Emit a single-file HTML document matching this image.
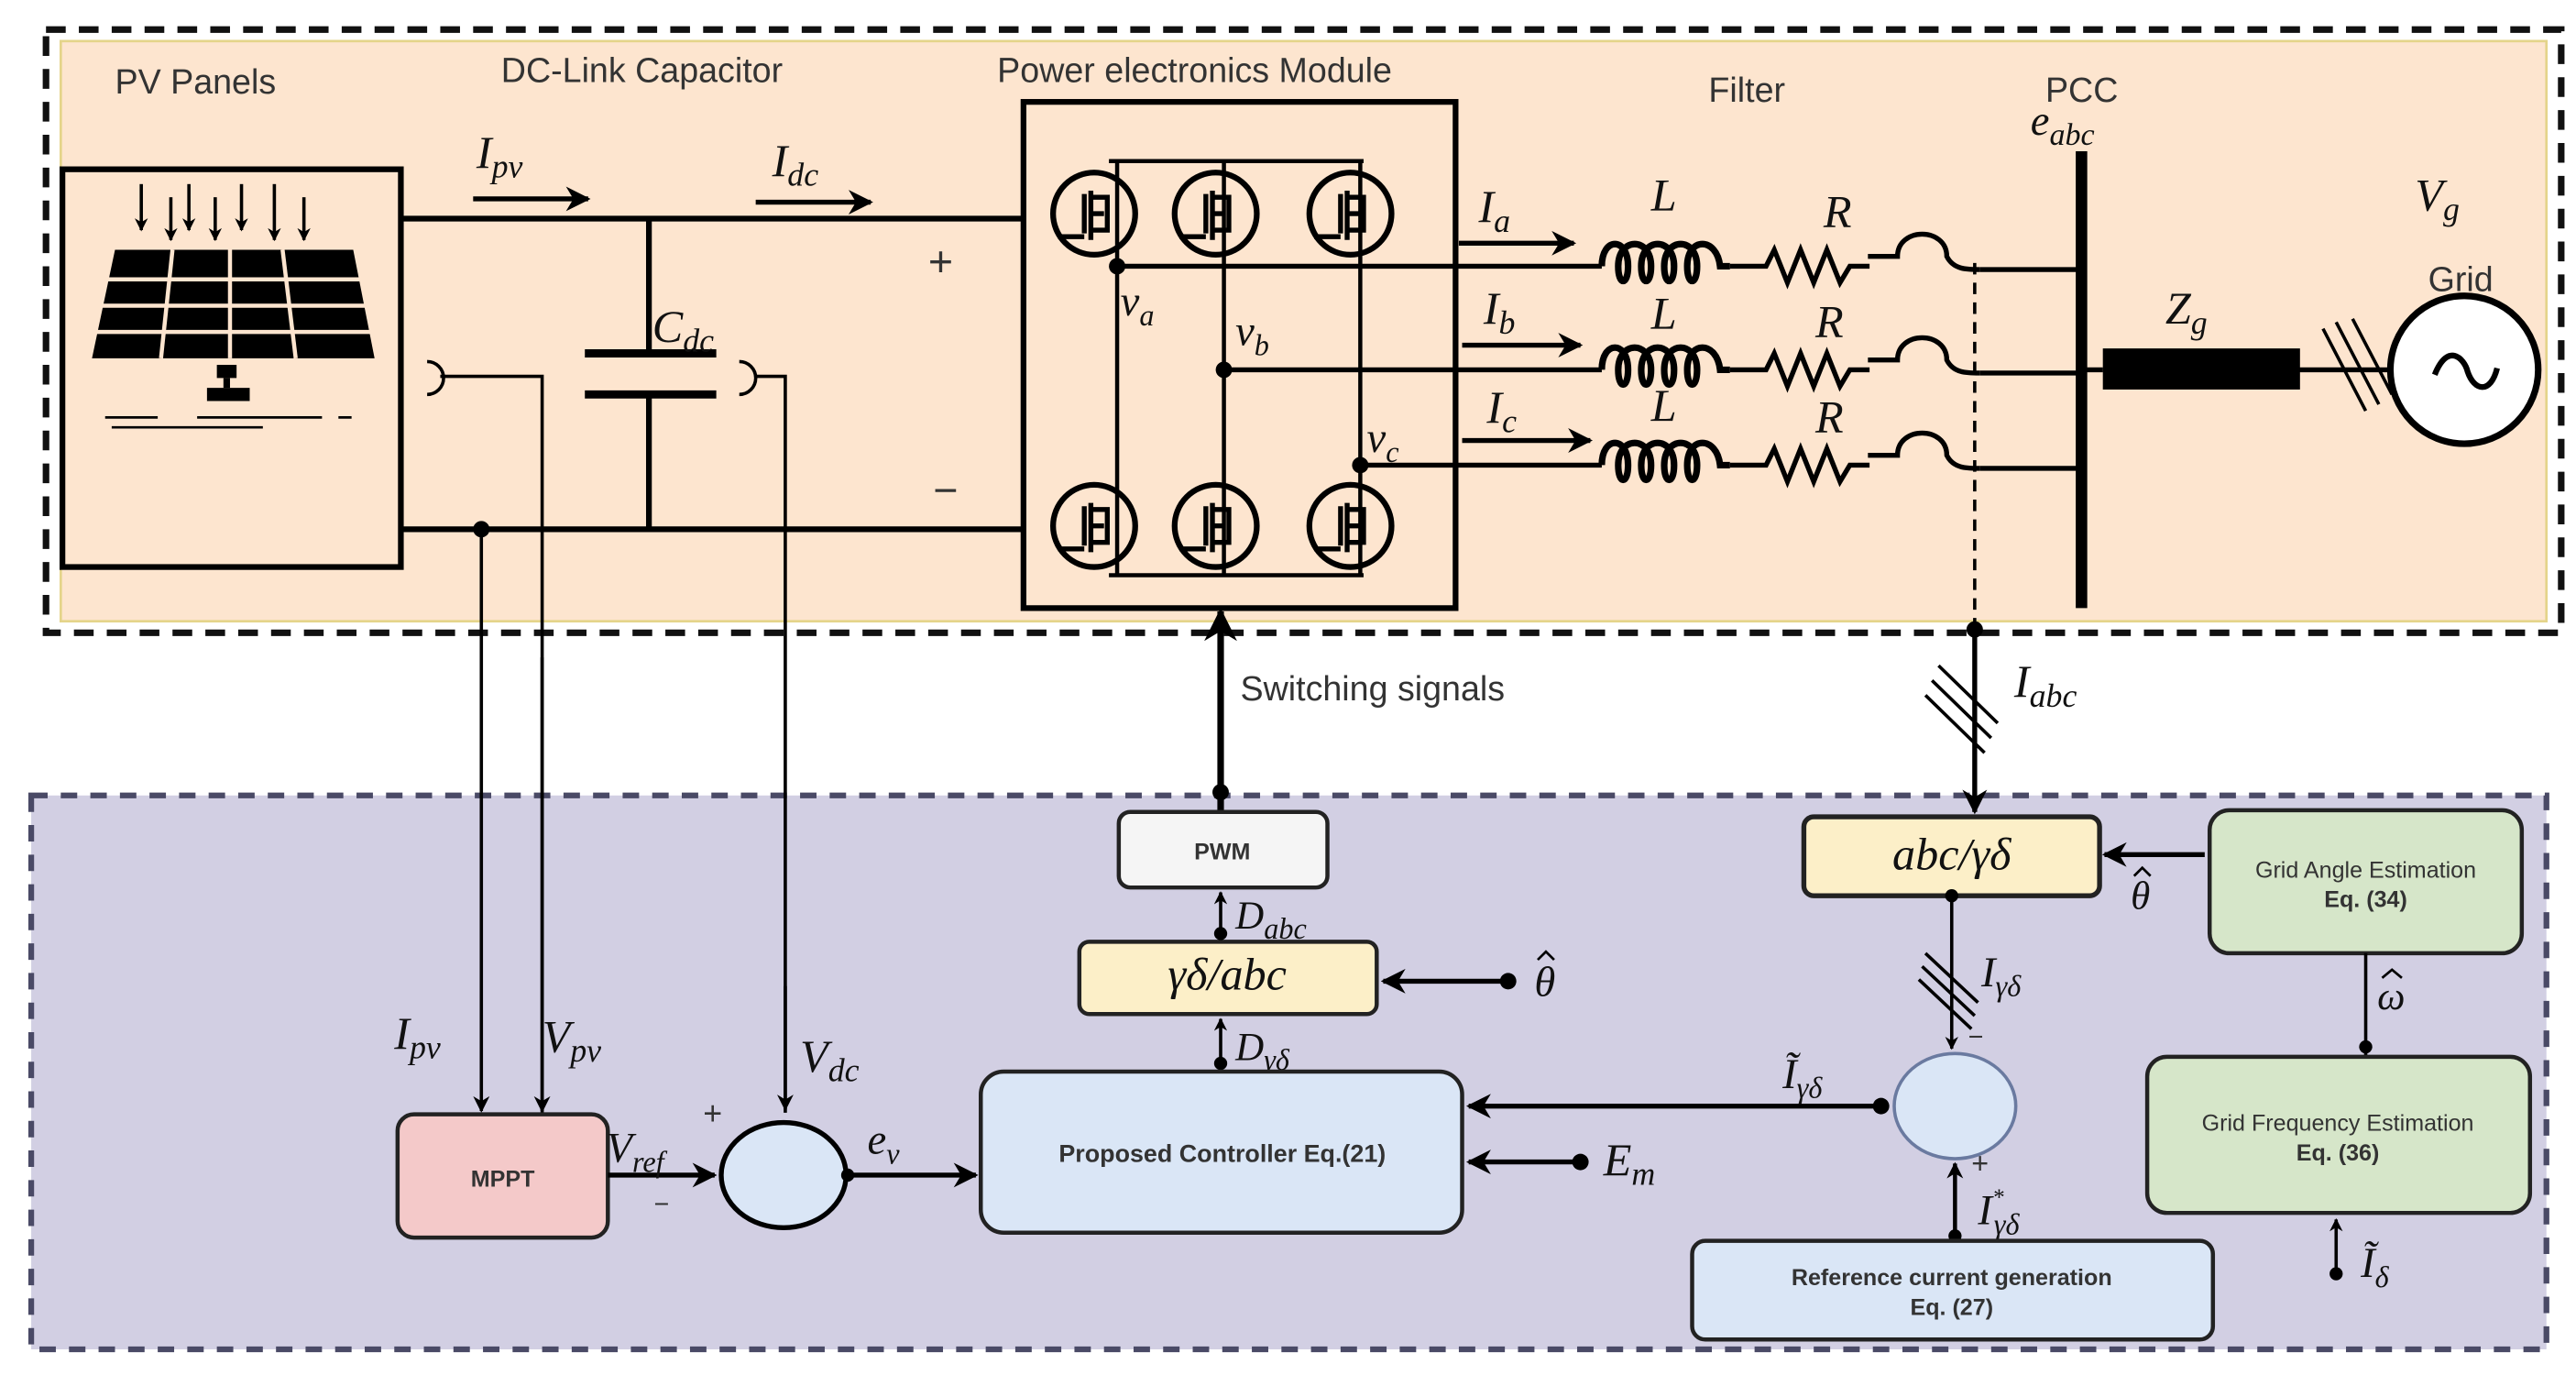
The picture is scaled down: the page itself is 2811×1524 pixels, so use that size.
<!DOCTYPE html>
<html><head><meta charset="utf-8"><style>
html,body{margin:0;padding:0;background:#fff;}
svg{display:block;}
.s{font-family:"Liberation Sans",sans-serif;fill:#333;}
.m{font-family:"Liberation Serif",serif;font-style:italic;fill:#111;}
.b{font-family:"Liberation Sans",sans-serif;font-weight:bold;fill:#333;}
</style></head><body>
<svg width="2811" height="1524" viewBox="0 0 1568 850" preserveAspectRatio="none" xmlns="http://www.w3.org/2000/svg">
<defs>
<marker id="a" viewBox="0 0 10 10" refX="9" refY="5" markerWidth="5" markerHeight="5" orient="auto"><path d="M0,0L10,5L0,10L3,5z" fill="#000"/></marker>
<marker id="ab" viewBox="0 0 10 10" refX="9" refY="5" markerWidth="4" markerHeight="4" orient="auto"><path d="M0,0L10,5L0,10L3,5z" fill="#000"/></marker>
<g id="fet"><circle cx="0" cy="0" r="25" fill="none" stroke="#000" stroke-width="3.5"/><path d="M-6,-12V12M-2,-14V16M-2,-10H8V10H-2M-2,0H6M-22,14H-6" stroke="#000" stroke-width="3" fill="none"/></g>
<g id="ind"><path d="M0,0 C0,-18 16,-18 16,0 C16,12 10,12 10,0 C10,-18 30,-18 30,0 C30,12 24,12 24,0 C24,-18 44,-18 44,0 C44,12 38,12 38,0 C38,-18 58,-18 58,0 C58,12 52,12 52,0 C52,-18 70,-18 72,0 H78" stroke="#000" stroke-width="4" fill="none"/></g>
<g id="res"><path d="M0,0H22L27,-10L35,10L43,-10L51,10L59,-10L67,10L73,0H85" stroke="#000" stroke-width="3" fill="none"/></g>
<g id="cross"><path d="M0,0H18C18,-18 48,-18 48,0C52,8 60,8 68,8" stroke="#000" stroke-width="3" fill="none"/></g>
</defs>
<rect width="1568" height="850" fill="#fff"/>
<rect x="37" y="25" width="1513" height="353" fill="#fde5cf" stroke="#e4d48a" stroke-width="1.5"/>
<rect x="28" y="18" width="1531" height="367" fill="none" stroke="#111" stroke-width="4" stroke-dasharray="12,8"/>
<rect x="19" y="484" width="1531" height="337" fill="#d2cfe3" stroke="#4a4a66" stroke-width="3.5" stroke-dasharray="10,8"/>

<text x="70" y="57" class="s" font-size="21">PV Panels</text>
<text x="305" y="50" class="s" font-size="21">DC-Link Capacitor</text>
<text x="607" y="50" class="s" font-size="21">Power electronics Module</text>
<text x="1040" y="62" class="s" font-size="21">Filter</text>
<text x="1245" y="62" class="s" font-size="21">PCC</text>
<text x="1236" y="82" class="m" font-size="26">e<tspan font-size="19" dy="6">abc</tspan></text>
<text x="1470" y="128" class="m" font-size="28">V<tspan font-size="20" dy="6">g</tspan></text>
<text x="1478" y="177" class="s" font-size="21">Grid</text>

<rect x="38" y="103" width="206" height="242" fill="none" stroke="#000" stroke-width="3.5"/>
<g stroke="#000" stroke-width="2" marker-end="url(#ab)">
<line x1="86" y1="112" x2="86" y2="140"/><line x1="104" y1="120" x2="104" y2="146"/><line x1="115" y1="112" x2="115" y2="140"/><line x1="131" y1="120" x2="131" y2="146"/><line x1="147" y1="112" x2="147" y2="140"/><line x1="167" y1="112" x2="167" y2="146"/><line x1="185" y1="120" x2="185" y2="146"/>
</g>
<path d="M70,152H215L228,218H56Z" fill="#000"/>
<g stroke="#fde5cf" stroke-width="2.5"><line x1="60" y1="170" x2="225" y2="170"/><line x1="58" y1="186" x2="226" y2="186"/><line x1="56" y1="202" x2="228" y2="202"/><line x1="105" y1="152" x2="98" y2="218"/><line x1="140" y1="152" x2="140" y2="218"/><line x1="172" y1="152" x2="180" y2="218"/></g>
<rect x="132" y="222" width="12" height="8" fill="#000"/><rect x="136" y="230" width="4" height="6" fill="#000"/><rect x="126" y="236" width="26" height="8" fill="#000"/>
<path d="M64,254H96M120,254H196M206,254H214M68,260H160" stroke="#000" stroke-width="1.5"/>

<path d="M244,133H622M244,322H622M395,133V215M395,240V322" stroke="#000" stroke-width="3.5" fill="none"/>
<path d="M356,215H436M356,240H436" stroke="#000" stroke-width="5"/>
<line x1="288" y1="121" x2="358" y2="121" stroke="#000" stroke-width="3" marker-end="url(#a)"/>
<line x1="460" y1="123" x2="530" y2="123" stroke="#000" stroke-width="3" marker-end="url(#a)"/>
<text x="290" y="102" class="m" font-size="28">I<tspan font-size="20" dy="6">pv</tspan></text>
<text x="470" y="107" class="m" font-size="28">I<tspan font-size="20" dy="6">dc</tspan></text>
<text x="397" y="208" class="m" font-size="28">C<tspan font-size="20" dy="6">dc</tspan></text>
<text x="565" y="168" class="s" font-size="26">+</text>
<text x="568" y="307" class="s" font-size="26">−</text>
<path d="M260,220A8,8 0 0 1 260,240M268,229H330V678" stroke="#000" stroke-width="2" fill="none"/>
<path d="M450,220A8,8 0 0 1 450,240M460,229H478V677" stroke="#000" stroke-width="2" fill="none"/>
<circle cx="293" cy="322" r="5" fill="#000"/>
<line x1="293" y1="322" x2="293" y2="676" stroke="#000" stroke-width="2" marker-end="url(#a)"/>
<line x1="330" y1="400" x2="330" y2="676" stroke="#000" stroke-width="2" marker-end="url(#a)"/>
<line x1="478" y1="600" x2="478" y2="675" stroke="#000" stroke-width="2" marker-end="url(#a)"/>

<rect x="623" y="62" width="263" height="308" fill="none" stroke="#000" stroke-width="3.5"/>
<path d="M675,98H830M675,350H830M680,98V350M745,98V350M828,98V350" stroke="#000" stroke-width="2.5" fill="none"/>
<use href="#fet" x="666" y="130"/><use href="#fet" x="740" y="130"/><use href="#fet" x="822" y="130"/>
<use href="#fet" x="666" y="320"/><use href="#fet" x="740" y="320"/><use href="#fet" x="822" y="320"/>
<circle cx="680" cy="162" r="5" fill="#000"/><circle cx="745" cy="225" r="5" fill="#000"/><circle cx="828" cy="283" r="5" fill="#000"/>
<text x="682" y="192" class="m" font-size="26">v<tspan font-size="18" dy="6">a</tspan></text>
<text x="752" y="210" class="m" font-size="26">v<tspan font-size="18" dy="6">b</tspan></text>
<text x="832" y="275" class="m" font-size="26">v<tspan font-size="18" dy="6">c</tspan></text>
<path d="M680,162H975M745,225H975M828,283H975" stroke="#000" stroke-width="3" fill="none"/>
<line x1="888" y1="148" x2="958" y2="148" stroke="#000" stroke-width="3" marker-end="url(#a)"/>
<line x1="890" y1="210" x2="962" y2="210" stroke="#000" stroke-width="3" marker-end="url(#a)"/>
<line x1="890" y1="268" x2="968" y2="268" stroke="#000" stroke-width="3" marker-end="url(#a)"/>
<text x="900" y="135" class="m" font-size="28">I<tspan font-size="20" dy="6">a</tspan></text>
<text x="903" y="197" class="m" font-size="28">I<tspan font-size="20" dy="6">b</tspan></text>
<text x="905" y="257" class="m" font-size="28">I<tspan font-size="20" dy="6">c</tspan></text>
<use href="#ind" x="975" y="162"/><use href="#ind" x="975" y="225"/><use href="#ind" x="975" y="283"/>
<use href="#res" x="1053" y="162"/><use href="#res" x="1053" y="225"/><use href="#res" x="1053" y="283"/>
<use href="#cross" x="1137" y="156"/><use href="#cross" x="1137" y="219"/><use href="#cross" x="1137" y="277"/>
<path d="M1205,164H1266M1205,227H1266M1205,285H1266" stroke="#000" stroke-width="3"/>
<text x="1005" y="128" class="m" font-size="28">L</text><text x="1110" y="138" class="m" font-size="28">R</text>
<text x="1005" y="200" class="m" font-size="28">L</text><text x="1105" y="205" class="m" font-size="28">R</text>
<text x="1005" y="256" class="m" font-size="28">L</text><text x="1105" y="263" class="m" font-size="28">R</text>
<line x1="1267" y1="92" x2="1267" y2="370" stroke="#000" stroke-width="7"/>
<line x1="1202" y1="160" x2="1202" y2="383" stroke="#000" stroke-width="2" stroke-dasharray="7,5"/>
<rect x="1280" y="212" width="120" height="25" fill="#000"/>
<path d="M1270,225H1280M1380,225H1455" stroke="#000" stroke-width="3"/>
<path d="M1414,200L1440,250M1422,196L1448,246M1432,194L1456,240" stroke="#000" stroke-width="2"/>
<circle cx="1500" cy="225" r="45" fill="#fff" stroke="#000" stroke-width="4"/>
<path d="M1482,228C1490,208 1500,218 1502,226C1506,238 1516,240 1520,224" stroke="#000" stroke-width="3.5" fill="none"/>
<text x="1318" y="197" class="m" font-size="28">Z<tspan font-size="20" dy="6">g</tspan></text>

<line x1="743" y1="494" x2="743" y2="372" stroke="#000" stroke-width="4" marker-end="url(#a)"/>
<circle cx="743" cy="482" r="5" fill="#000"/>
<text x="755" y="426" class="s" font-size="21" fill="#111">Switching signals</text>
<circle cx="1202" cy="383" r="5" fill="#000"/>
<line x1="1202" y1="383" x2="1202" y2="494" stroke="#000" stroke-width="3" marker-end="url(#a)"/>
<path d="M1180,405L1216,440M1176,414L1212,449M1172,423L1208,458" stroke="#000" stroke-width="2"/>
<text x="1226" y="424" class="m" font-size="28">I<tspan font-size="20" dy="6">abc</tspan></text>

<rect x="681" y="494" width="127" height="46" rx="7" fill="#f5f5f5" stroke="#222" stroke-width="2.5"/>
<text x="744" y="523" class="b" font-size="14" text-anchor="middle">PWM</text>
<rect x="657" y="573" width="181" height="44" rx="6" fill="#fcefc8" stroke="#222" stroke-width="2.5"/>
<text x="747" y="602" class="m" font-size="28" text-anchor="middle">γδ/abc</text>
<line x1="743" y1="572" x2="743" y2="543" stroke="#000" stroke-width="2" marker-end="url(#ab)"/><circle cx="743" cy="568" r="4" fill="#000"/>
<text x="752" y="565" class="m" font-size="24">D<tspan font-size="18" dy="6">abc</tspan></text>
<line x1="743" y1="650" x2="743" y2="620" stroke="#000" stroke-width="2" marker-end="url(#ab)"/><circle cx="743" cy="647" r="4" fill="#000"/>
<text x="752" y="645" class="m" font-size="24">D<tspan font-size="18" dy="6">γδ</tspan></text>
<line x1="918" y1="597" x2="842" y2="597" stroke="#000" stroke-width="3" marker-end="url(#a)"/><circle cx="918" cy="597" r="5" fill="#000"/>
<text x="934" y="606" class="m" font-size="26">θ</text><path d="M936,584L941,579L946,584" stroke="#000" stroke-width="1.5" fill="none"/>

<rect x="597" y="652" width="293" height="98" rx="14" fill="#dae6f6" stroke="#222" stroke-width="2.5"/>
<text x="744" y="707" class="b" font-size="15" text-anchor="middle">Proposed Controller Eq.(21)</text>
<line x1="1145" y1="673" x2="894" y2="673" stroke="#000" stroke-width="3" marker-end="url(#a)"/><circle cx="1145" cy="673" r="5" fill="#000"/>
<text x="1085" y="662" class="m" font-size="26">Ĩ<tspan font-size="18" dy="6">γδ</tspan></text>
<line x1="962" y1="707" x2="894" y2="707" stroke="#000" stroke-width="3" marker-end="url(#a)"/><circle cx="962" cy="707" r="5" fill="#000"/>
<text x="976" y="715" class="m" font-size="28">E<tspan font-size="20" dy="6">m</tspan></text>

<rect x="242" y="678" width="128" height="75" rx="10" fill="#f4c9c9" stroke="#222" stroke-width="2.5"/>
<text x="306" y="722" class="b" font-size="14" text-anchor="middle" fill="#222">MPPT</text>
<line x1="370" y1="715" x2="435" y2="715" stroke="#000" stroke-width="3" marker-end="url(#a)"/>
<text x="369" y="707" class="m" font-size="26">V<tspan font-size="18" dy="6">ref</tspan></text>
<text x="398" y="738" class="s" font-size="16" fill="#666">−</text>
<text x="428" y="684" class="s" font-size="20" fill="#555">+</text>
<ellipse cx="477" cy="715" rx="38" ry="32" fill="#dae6f6" stroke="#000" stroke-width="3"/>
<line x1="515" y1="715" x2="594" y2="715" stroke="#000" stroke-width="3" marker-end="url(#a)"/><circle cx="516" cy="715" r="4" fill="#000"/>
<text x="528" y="702" class="m" font-size="26">e<tspan font-size="18" dy="6">v</tspan></text>
<text x="240" y="638" class="m" font-size="28">I<tspan font-size="20" dy="6">pv</tspan></text>
<text x="330" y="640" class="m" font-size="28">V<tspan font-size="20" dy="6">pv</tspan></text>
<text x="487" y="652" class="m" font-size="28">V<tspan font-size="20" dy="6">dc</tspan></text>

<rect x="1098" y="497" width="180" height="48" rx="6" fill="#fcefc8" stroke="#222" stroke-width="3"/>
<text x="1188" y="529" class="m" font-size="28" text-anchor="middle">abc/γδ</text>
<line x1="1342" y1="520" x2="1281" y2="520" stroke="#000" stroke-width="3" marker-end="url(#a)"/>
<text x="1297" y="553" class="m" font-size="24">θ</text><path d="M1299,533L1304,528L1309,533" stroke="#000" stroke-width="1.5" fill="none"/>
<rect x="1345" y="493" width="190" height="87" rx="12" fill="#d6e6c9" stroke="#222" stroke-width="2.5"/>
<text x="1440" y="534" class="s" font-size="14" text-anchor="middle" fill="#333">Grid Angle Estimation</text>
<text x="1440" y="552" class="b" font-size="14" text-anchor="middle">Eq. (34)</text>
<line x1="1440" y1="580" x2="1440" y2="643" stroke="#000" stroke-width="2"/><circle cx="1440" cy="637" r="4" fill="#000"/>
<text x="1447" y="614" class="m" font-size="24">ω</text><path d="M1450,595L1456,590L1462,595" stroke="#000" stroke-width="1.5" fill="none"/>
<rect x="1307" y="643" width="233" height="95" rx="12" fill="#d6e6c9" stroke="#222" stroke-width="2.5"/>
<text x="1423" y="688" class="s" font-size="14" text-anchor="middle" fill="#333">Grid Frequency Estimation</text>
<text x="1423" y="706" class="b" font-size="14" text-anchor="middle">Eq. (36)</text>
<line x1="1422" y1="775" x2="1422" y2="742" stroke="#000" stroke-width="2" marker-end="url(#ab)"/><circle cx="1422" cy="775" r="4" fill="#000"/>
<text x="1437" y="777" class="m" font-size="26">Ĩ<tspan font-size="18" dy="6">δ</tspan></text>

<circle cx="1188" cy="545" r="4" fill="#000"/>
<line x1="1188" y1="545" x2="1188" y2="638" stroke="#000" stroke-width="2" marker-end="url(#ab)"/>
<path d="M1172,580L1204,610M1170,588L1202,618M1168,596L1200,626" stroke="#000" stroke-width="2"/>
<text x="1206" y="600" class="m" font-size="26">I<tspan font-size="18" dy="6">γδ</tspan></text>
<text x="1198" y="636" class="s" font-size="16" fill="#666">−</text>
<ellipse cx="1190" cy="673" rx="37" ry="32" fill="#dae6f6" stroke="#6a7aa0" stroke-width="2"/>
<line x1="1190" y1="752" x2="1190" y2="708" stroke="#000" stroke-width="2.5" marker-end="url(#ab)"/><circle cx="1190" cy="752" r="4" fill="#000"/>
<text x="1200" y="714" class="s" font-size="18" fill="#666">+</text>
<text x="1204" y="745" class="m" font-size="26">I<tspan font-size="14" dy="-12">*</tspan><tspan font-size="18" dy="18" dx="-6">γδ</tspan></text>
<rect x="1030" y="755" width="317" height="60" rx="8" fill="#dae6f6" stroke="#222" stroke-width="2.5"/>
<text x="1188" y="782" class="b" font-size="14" text-anchor="middle">Reference current generation</text>
<text x="1188" y="800" class="b" font-size="14" text-anchor="middle">Eq. (27)</text>
</svg>
</body></html>
